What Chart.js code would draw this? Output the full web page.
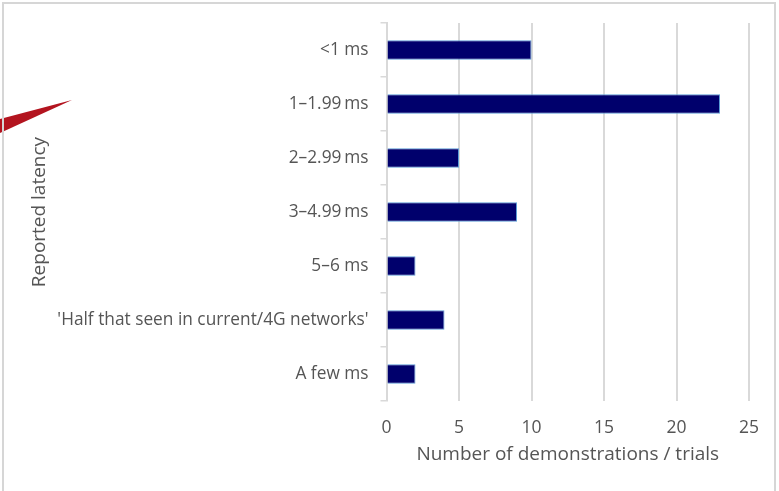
<!DOCTYPE html>
<html>
<head>
<meta charset="utf-8">
<script src="https://cdn.jsdelivr.net/npm/chart.js@4/dist/chart.umd.min.js"></script>
<style>
  html, body { margin: 0; padding: 0; background: #fff; }
  #wrap { position: relative; width: 779px; height: 491px; }
  #frame { position: absolute; left: 2px; top: 2px; width: 774px; height: 489px;
           border-left: 2px solid #d6d6d6; border-top: 2px solid #d6d6d6; border-right: 2px solid #d6d6d6;
           box-sizing: border-box; pointer-events: none; }
  canvas { position: absolute; left: 0; top: 0; }
</style>
</head>
<body>
<div id="wrap">
  <canvas id="c" width="779" height="491"></canvas>
  <div id="frame"></div>
</div>
<script>
const categories = ["<1 ms", "1\u20131.99\u2009ms", "2\u20132.99\u2009ms", "3\u20134.99\u2009ms", "5\u20136 ms", "'Half that seen in current/4G networks'", "A few ms"];
const values = [10, 23, 5, 9, 2, 4, 2];
const xTicks = [0, 5, 10, 15, 20, 25];
const xTitle = "Number of demonstrations / trials";
const yTitle = "Reported latency";

const TEXT = "#555555";
const GRID = "#d9d9d9";
const FONT = "'Open Sans', 'Noto Sans', sans-serif";

const wedge = {
  id: 'wedge',
  afterDraw(chart) {
    const ctx = chart.ctx;
    ctx.save();
    ctx.fillStyle = "#b3141f";
    ctx.beginPath();
    ctx.moveTo(0, 119);
    ctx.lineTo(72, 100);
    ctx.lineTo(0, 133);
    ctx.closePath();
    ctx.fill();
    ctx.restore();
  }
};

new Chart(document.getElementById('c'), {
  type: 'bar',
  data: {
    labels: categories,
    datasets: [{
      data: values,
      backgroundColor: "#00006c",
      borderColor: "#5b9bd5",
      borderWidth: 1,
      barPercentage: 0.36,
      categoryPercentage: 1
    }]
  },
  plugins: [wedge],
  options: {
    indexAxis: 'y',
    responsive: false,
    animation: false,
    layout: { padding: { left: 24.6, top: 23, right: 30, bottom: 20.6 } },
    plugins: { legend: { display: false }, tooltip: { enabled: false } },
    scales: {
      x: {
        min: 0, max: 25,
        afterBuildTicks(scale) { scale.ticks = xTicks.map(v => ({ value: v })); },
        afterFit(scale) { scale.height = 69.4; },
        grid: { color: GRID, lineWidth: 2, drawTicks: false },
        border: { display: false },
        ticks: { color: TEXT, font: { family: FONT, size: 17.5 }, padding: 17 },
        title: { display: true, text: xTitle, color: TEXT, font: { family: FONT, size: 19 }, padding: { top: 4, bottom: 4 } }
      },
      y: {
        afterFit(scale) { scale.width = 361.9; },
        grid: { drawOnChartArea: false, color: GRID, lineWidth: 1.5, tickLength: 6, offset: true },
        border: { display: true, color: GRID, width: 2 },
        ticks: { color: TEXT, font: { family: FONT, size: 17.3 }, padding: 12 },
        title: { display: true, text: yTitle, color: TEXT, font: { family: FONT, size: 19 }, padding: { top: 4, bottom: 4 } }
      }
    }
  }
});
</script>
</body>
</html>
